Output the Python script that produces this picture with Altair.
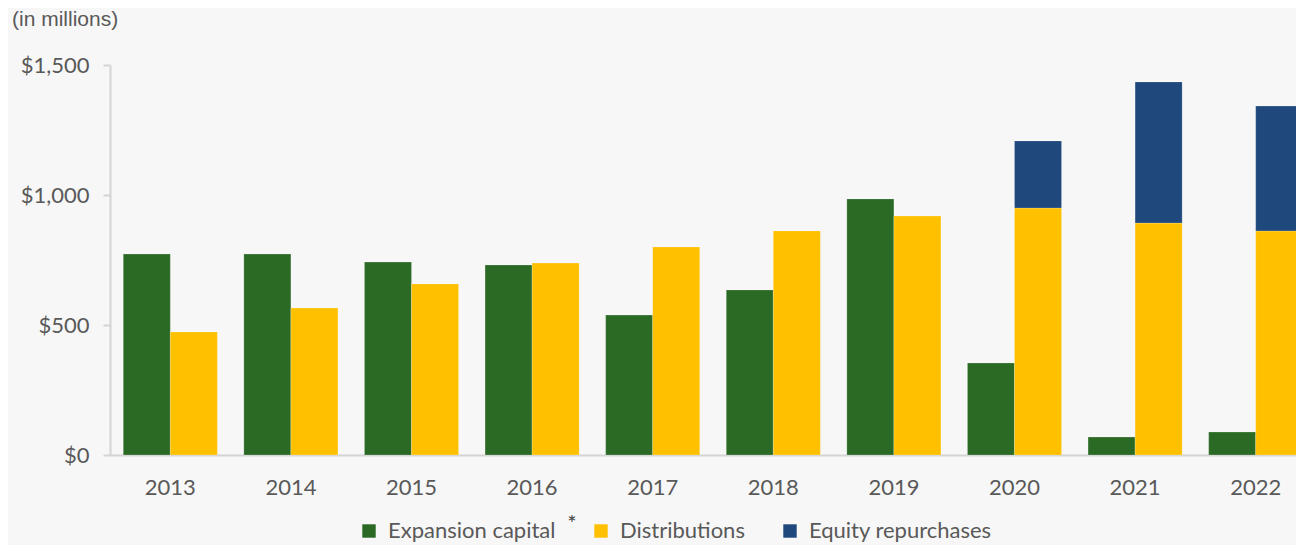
import altair as alt
import pandas as pd

years = ["2013", "2014", "2015", "2016", "2017", "2018", "2019", "2020", "2021", "2022"]
expansion = [773, 773, 742, 731, 538, 635, 985, 354, 69, 88]
distributions = [473, 565, 658, 738, 800, 862, 919, 950, 892, 862]
repurchases = [0, 0, 0, 0, 0, 0, 0, 258, 543, 480]

series = ["Expansion capital", "Distributions", "Equity repurchases"]
colors = ["#2b6a25", "#ffc000", "#1f497d"]

rows = []
for i, y in enumerate(years):
    rows.append({"year": y, "series": series[0], "grp": "a", "ord": 0, "value": expansion[i]})
    rows.append({"year": y, "series": series[1], "grp": "b", "ord": 1, "value": distributions[i]})
    if repurchases[i] > 0:
        rows.append({"year": y, "series": series[2], "grp": "b", "ord": 2, "value": repurchases[i]})
df = pd.DataFrame(rows)

FONT = "Lato"
GREY = "#595959"

bars = alt.Chart(df).transform_stack(
    stack="value", as_=["v0", "v1"], groupby=["year", "grp"], sort=[alt.SortField("ord")]
).mark_bar(stroke="#ffffff", strokeWidth=0.5, strokeOpacity=0.4).encode(
    x=alt.X("year:N", sort=years,
            scale=alt.Scale(range=[0, 1206], paddingInner=0.22, paddingOuter=0.11),
            axis=alt.Axis(title=None, labelAngle=0, labelFont=FONT, labelFontSize=22,
                          labelColor=GREY, labelPadding=22, ticks=False,
                          domainColor="#d4d4d4", domainWidth=2)),
    xOffset=alt.XOffset("grp:N", scale=alt.Scale(domain=["a", "b"], paddingInner=0, paddingOuter=0)),
    y=alt.Y("v0:Q", scale=alt.Scale(domain=[0, 1500], nice=False),
            axis=alt.Axis(title=None, values=[0, 500, 1000, 1500],
                          labelExpr="'$' + format(datum.value, ',')",
                          labelFont=FONT, labelFontSize=22, labelColor=GREY, labelPadding=14,
                          tickSize=7, tickColor="#d4d4d4", tickWidth=2,
                          domainColor="#d4d4d4", domainWidth=2, grid=False)),
    y2="v1:Q",
    color=alt.Color("series:N", scale=alt.Scale(domain=series, range=colors),
                    legend=alt.Legend(title=None, orient="none", legendX=248, legendY=455,
                                      direction="horizontal", symbolType="square",
                                      symbolSize=180, symbolStrokeWidth=0, symbolOpacity=1,
                                      labelFont=FONT, labelFontSize=22, labelColor=GREY,
                                      labelLimit=400, labelOffset=8, columnPadding=34)),
)

note = alt.Chart(pd.DataFrame({"t": ["(in millions)"]})).mark_text(
    align="left", baseline="middle", font="Liberation Sans", fontSize=21, color=GREY
).encode(x=alt.value(-98), y=alt.value(-45), text="t:N")

star = alt.Chart(pd.DataFrame({"t": ["*"]})).mark_text(
    align="center", baseline="middle", font=FONT, fontSize=22, color="#404040"
).encode(x=alt.value(462), y=alt.value(459), text="t:N")

chart = alt.layer(bars, note, star).properties(
    width=1186, height=390,
    autosize=alt.AutoSizeParams(type="none"),
    padding={"left": 102, "top": 57, "right": 0, "bottom": 90},
    background="#f7f7f7",
).configure_view(stroke=None)

chart.save("out.html", embed_options={"renderer": "svg", "actions": False})
